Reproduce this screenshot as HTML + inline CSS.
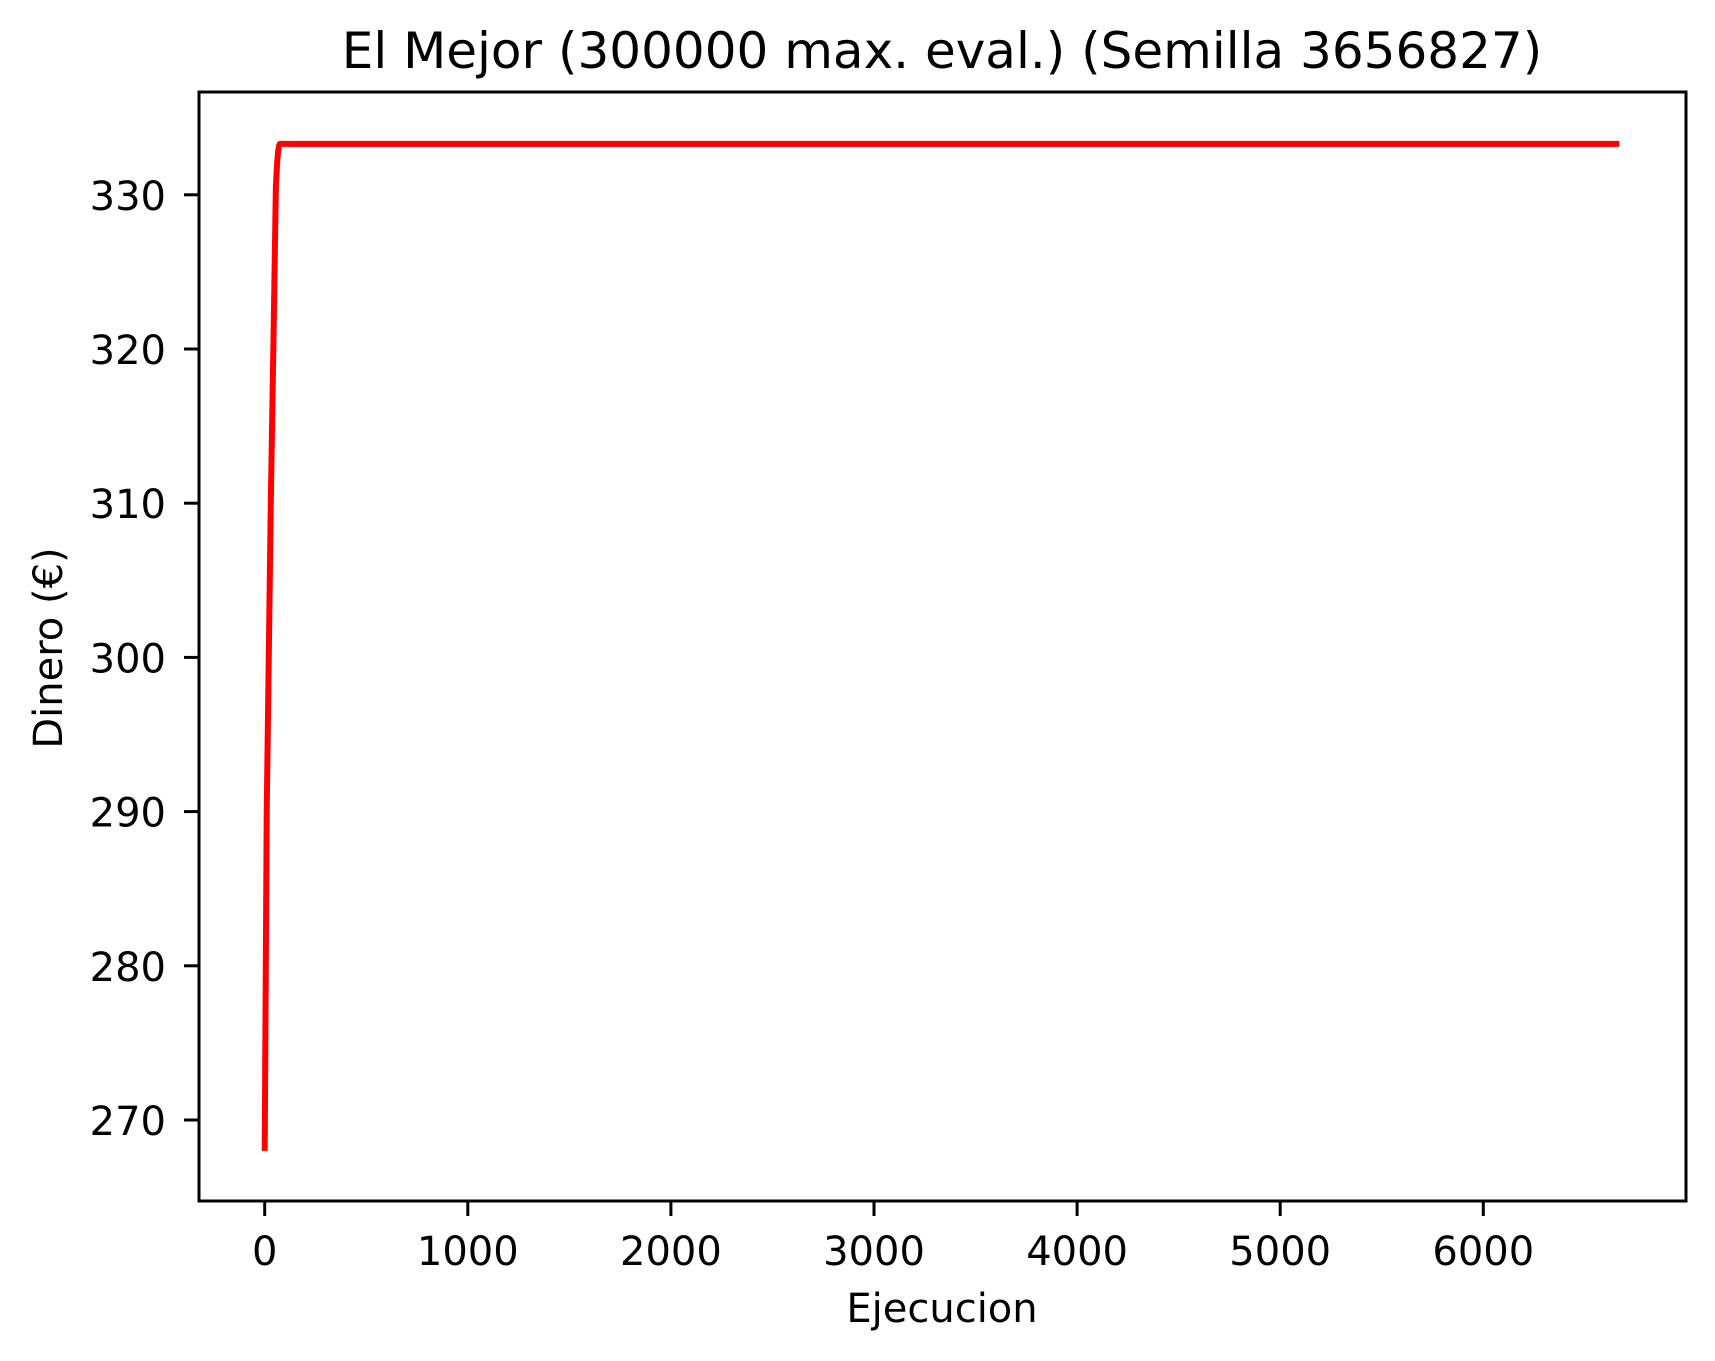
<!DOCTYPE html>
<html><head><meta charset="utf-8"><style>
body{margin:0;background:#fff}
svg{display:block;font-family:"DejaVu Sans","Liberation Sans",sans-serif}
</style></head><body>
<svg id="chart" width="1715" height="1361" viewBox="0 0 1715 1361" xmlns="http://www.w3.org/2000/svg">
<rect width="1715" height="1361" fill="#fff"/>
<text x="942" y="68" font-size="50" text-anchor="middle">El Mejor (300000 max. eval.) (Semilla 3656827)</text>
<g id="plot"></g>
<rect x="199" y="92" width="1487" height="1109" fill="none" stroke="#000" stroke-width="3"/>
<text x="942" y="1322" font-size="40" text-anchor="middle">Ejecucion</text>
<text transform="translate(62,648) rotate(-90)" font-size="40" text-anchor="middle">Dinero (€)</text>
</svg>
<script>
const xs=[0,10,20,30,45,55,60,65,70,75,6670];
const ys=[268,290,300,310,322,330.5,331.8,332.7,333.15,333.3,333.3];
const xTicks=[0,1000,2000,3000,4000,5000,6000];
const yTicks=[270,280,290,300,310,320,330];
const X=v=>264.7+v*0.20310;
const Y=v=>1120-(v-270)*15.42;
const ns="http://www.w3.org/2000/svg";
const g=document.getElementById('plot');
function mk(t,a){const e=document.createElementNS(ns,t);for(const k in a)e.setAttribute(k,a[k]);g.appendChild(e);return e;}
xTicks.forEach(v=>{
 const l=mk('line',{x1:X(v),x2:X(v),y1:1201,y2:1216,stroke:'#000','stroke-width':3});
 
 
 const t=mk('text',{x:X(v),y:1265,'font-size':40,'text-anchor':'middle'});t.textContent=v;
 
 
});
yTicks.forEach(v=>{
 const l=mk('line',{x1:184,x2:199,y1:Y(v),y2:Y(v),stroke:'#000','stroke-width':3});
 
 
 const t=mk('text',{x:166,y:Y(v)+15,'font-size':40,'text-anchor':'end'});t.textContent=v;
 
 
});
const p=mk('polyline',{points:xs.map((x,i)=>X(x)+','+Y(ys[i])).join(' '),fill:'none',stroke:'#ff0000','stroke-width':6,'stroke-linejoin':'round'});


</script>
</body></html>
